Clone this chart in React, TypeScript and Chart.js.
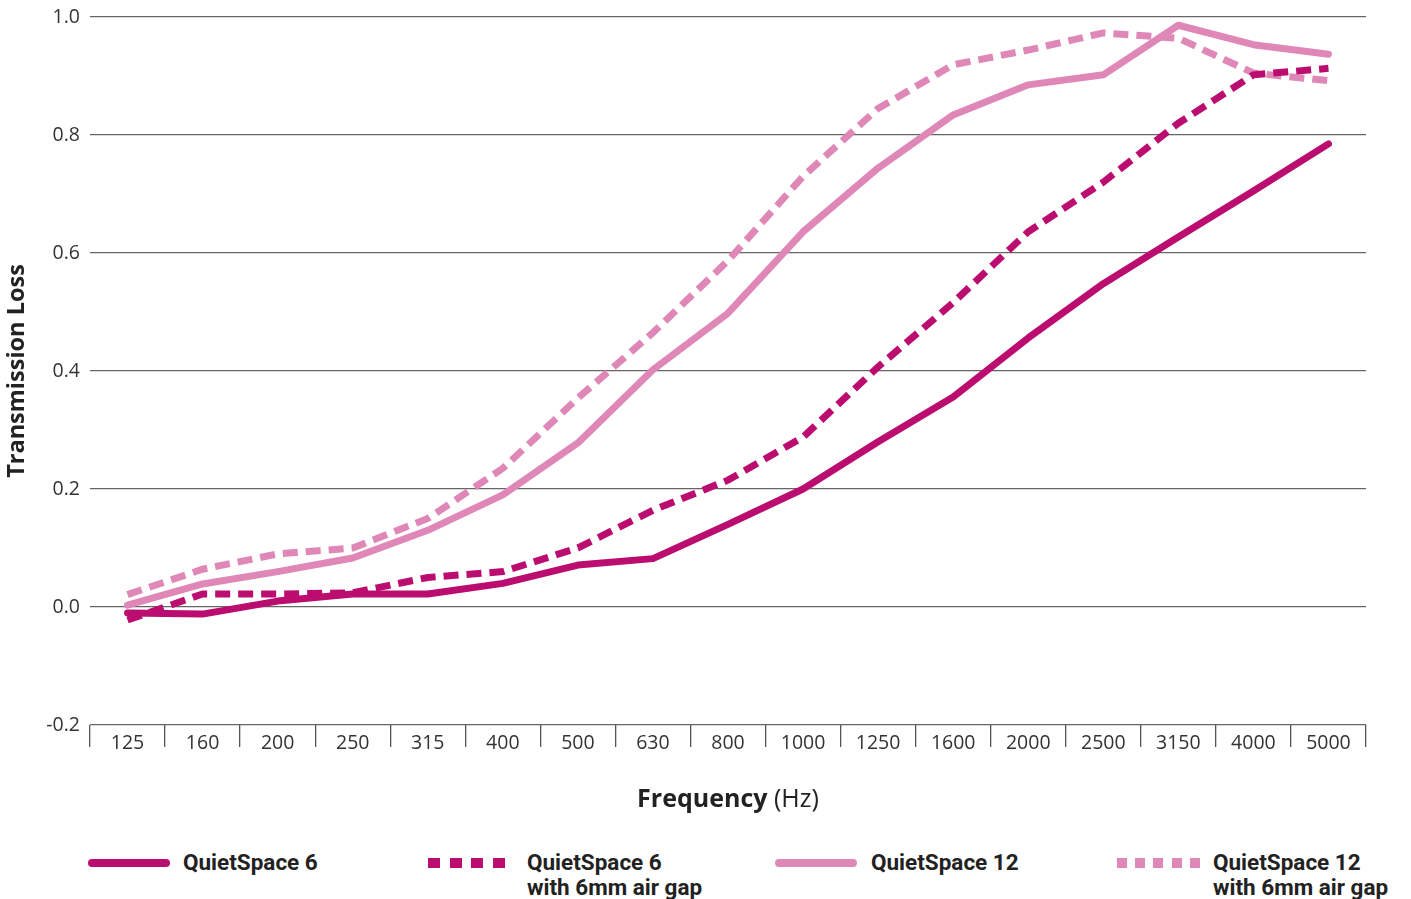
import React, { useEffect, useRef } from "react";
import { Chart, registerables } from "chart.js";

Chart.register(...registerables);

const frequencies = ["125", "160", "200", "250", "315", "400", "500", "630", "800", "1000", "1250", "1600", "2000", "2500", "3150", "4000", "5000"];
const quietSpace6 = [-0.01, -0.012, 0.01, 0.022, 0.022, 0.04, 0.071, 0.082, 0.14, 0.2, 0.28, 0.356, 0.456, 0.548, 0.627, 0.705, 0.785];
const quietSpace6Gap = [-0.022, 0.022, 0.022, 0.024, 0.05, 0.06, 0.1, 0.164, 0.215, 0.288, 0.407, 0.516, 0.636, 0.72, 0.82, 0.902, 0.913];
const quietSpace12 = [0.003, 0.039, 0.06, 0.083, 0.13, 0.19, 0.278, 0.402, 0.498, 0.636, 0.744, 0.834, 0.885, 0.902, 0.986, 0.953, 0.937];
const quietSpace12Gap = [0.021, 0.064, 0.09, 0.1, 0.15, 0.235, 0.354, 0.465, 0.587, 0.73, 0.845, 0.919, 0.944, 0.973, 0.964, 0.905, 0.892];
const yTicks = [-0.2, 0, 0.2, 0.4, 0.6, 0.8, 1.0];

const DARK = "#BB0D6F";
const LIGHT = "#DF88B8";
const TICK_FONT = "'Open Sans', sans-serif";
const BOLD_FONT = "Roboto, 'Open Sans', sans-serif";

const xTitlePlugin = {
  id: "xTitle",
  afterDraw(chart: any) {
    const { ctx, chartArea } = chart;
    const cx = (chartArea.left + chartArea.right) / 2;
    const y = chartArea.bottom + 75;
    ctx.save();
    ctx.textBaseline = "middle";
    ctx.textAlign = "left";
    ctx.fillStyle = "#222";
    const boldFont = `700 25px ${TICK_FONT}`;
    const normFont = `400 25px ${TICK_FONT}`;
    ctx.font = boldFont;
    const w1 = ctx.measureText("Frequency").width;
    ctx.font = normFont;
    const w2 = ctx.measureText(" (Hz)").width;
    const start = cx - (w1 + w2) / 2;
    ctx.font = boldFont;
    ctx.fillText("Frequency", start, y);
    ctx.font = normFont;
    ctx.fillText(" (Hz)", start + w1, y);
    ctx.restore();
  },
};

export default function App() {
  const canvasRef = useRef<HTMLCanvasElement | null>(null);

  useEffect(() => {
    if (!canvasRef.current) return;
    const chart = new Chart(canvasRef.current, {
      type: "line",
      data: {
        labels: frequencies,
        datasets: [
          {
            label: "QuietSpace 6",
            data: quietSpace6,
            borderColor: DARK,
            borderWidth: 7,
            borderCapStyle: "round",
            borderJoinStyle: "round",
            pointRadius: 0,
            tension: 0,
          },
          {
            label: "QuietSpace 6 with 6mm air gap",
            data: quietSpace6Gap,
            borderColor: DARK,
            borderWidth: 7,
            borderDash: [15, 8],
            borderCapStyle: "butt",
            borderJoinStyle: "miter",
            pointRadius: 0,
            tension: 0,
          },
          {
            label: "QuietSpace 12",
            data: quietSpace12,
            borderColor: LIGHT,
            borderWidth: 7,
            borderCapStyle: "round",
            borderJoinStyle: "round",
            pointRadius: 0,
            tension: 0,
          },
          {
            label: "QuietSpace 12 with 6mm air gap",
            data: quietSpace12Gap,
            borderColor: LIGHT,
            borderWidth: 7,
            borderDash: [15, 8],
            borderCapStyle: "butt",
            borderJoinStyle: "miter",
            pointRadius: 0,
            tension: 0,
          },
        ],
      },
      options: {
        animation: false,
        responsive: true,
        maintainAspectRatio: false,
        layout: { padding: { left: 0, right: 45, top: 0, bottom: 65 } },
        plugins: {
          legend: { display: false },
          tooltip: { enabled: false },
        },
        scales: {
          x: {
            type: "category",
            offset: true,
            border: { display: false },
            grid: {
              display: true,
              offset: true,
              drawOnChartArea: false,
              drawTicks: true,
              tickLength: 22,
              color: "#555",
              lineWidth: 1.3,
            },
            ticks: {
              color: "#333",
              font: { family: TICK_FONT, size: 19.5 },
              padding: -15,
              maxRotation: 0,
              autoSkip: false,
            },
            afterFit(scale: any) {
              scale.height = 40;
            },
          },
          y: {
            min: -0.2,
            max: 1.0,
            border: { display: false },
            afterBuildTicks(scale: any) {
              scale.ticks = yTicks.map((v) => ({ value: v }));
            },
            grid: {
              drawTicks: false,
              color: "#666",
              lineWidth: 1.2,
            },
            ticks: {
              color: "#333",
              font: { family: TICK_FONT, size: 19.5 },
              padding: 10,
              callback: (v: any) => Number(v).toFixed(1),
            },
            title: {
              display: true,
              text: "Transmission Loss",
              color: "#222",
              font: { family: TICK_FONT, size: 23.5, weight: "bold" },
              padding: { top: 3, bottom: 0 },
            },
            afterFit(scale: any) {
              scale.width = 90;
              scale.paddingTop = 17;
            },
          },
        },
      },
      plugins: [xTitlePlugin],
    });
    return () => chart.destroy();
  }, []);

  const textStyle: React.CSSProperties = {
    position: "absolute",
    top: 850,
    fontFamily: BOLD_FONT,
    fontWeight: 700,
    fontSize: 22.5,
    lineHeight: "25px",
    color: "#222",
    whiteSpace: "nowrap",
  };
  const solid = (left: number, width: number, color: string): React.CSSProperties => ({
    position: "absolute",
    left,
    top: 859,
    width,
    height: 8,
    borderRadius: 4,
    background: color,
  });
  const squares = (left: number, count: number, size: number, gap: number, color: string) =>
    Array.from({ length: count }, (_, i) => (
      <div
        key={i}
        style={{
          position: "absolute",
          left: left + i * (size + gap),
          top: 858,
          width: size,
          height: 10,
          background: color,
        }}
      />
    ));

  return (
    <div style={{ position: "fixed", left: 0, top: 0, width: 1411, height: 899, overflow: "hidden", background: "#fff" }}>
      <div style={{ position: "absolute", left: 0, top: 0, width: 1411, height: 830 }}>
        <canvas ref={canvasRef} />
      </div>
      <div style={solid(88, 82, DARK)} />
      <div style={{ ...textStyle, left: 183 }}>QuietSpace 6</div>
      {squares(428, 4, 12, 9.5, DARK)}
      <div style={{ ...textStyle, left: 527 }}>
        QuietSpace 6<br />with 6mm air gap
      </div>
      <div style={solid(775, 82, LIGHT)} />
      <div style={{ ...textStyle, left: 871 }}>QuietSpace 12</div>
      {squares(1117, 5, 10, 8.2, LIGHT)}
      <div style={{ ...textStyle, left: 1213 }}>
        QuietSpace 12<br />with 6mm air gap
      </div>
    </div>
  );
}
